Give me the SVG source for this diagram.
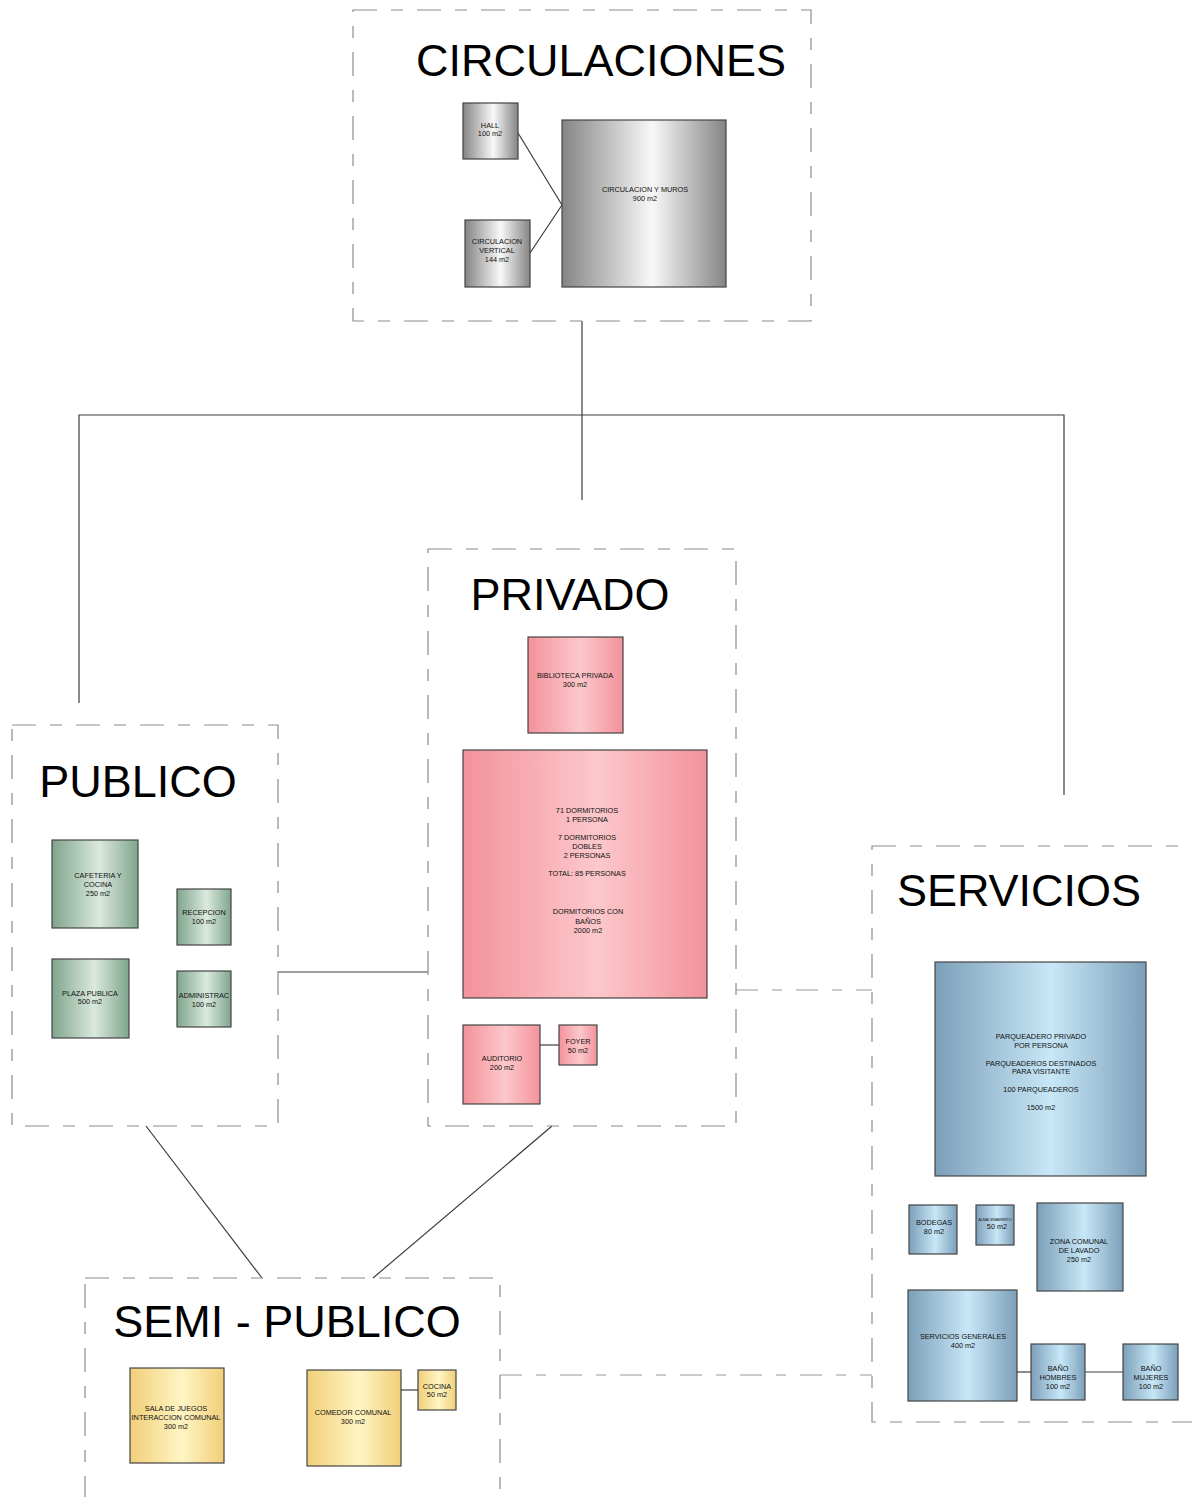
<svg xmlns="http://www.w3.org/2000/svg" width="1192" height="1497" viewBox="0 0 1192 1497">
<defs>
<linearGradient id="gGray" x1="0" y1="0" x2="1" y2="0">
<stop offset="0" stop-color="#858585"/><stop offset="0.55" stop-color="#f8f8f8"/><stop offset="1" stop-color="#858585"/>
</linearGradient>
<linearGradient id="gPink" x1="0" y1="0" x2="1" y2="0">
<stop offset="0" stop-color="#f3929a"/><stop offset="0.55" stop-color="#fcc8cb"/><stop offset="1" stop-color="#f3929a"/>
</linearGradient>
<linearGradient id="gGreen" x1="0" y1="0" x2="1" y2="0">
<stop offset="0" stop-color="#7fa58c"/><stop offset="0.55" stop-color="#dbe9df"/><stop offset="1" stop-color="#7fa58c"/>
</linearGradient>
<linearGradient id="gBlue" x1="0" y1="0" x2="1" y2="0">
<stop offset="0" stop-color="#7c9fb9"/><stop offset="0.55" stop-color="#c8e7f7"/><stop offset="1" stop-color="#7c9fb9"/>
</linearGradient>
<linearGradient id="gYellow" x1="0" y1="0" x2="1" y2="0">
<stop offset="0" stop-color="#f1cf78"/><stop offset="0.55" stop-color="#fff5c4"/><stop offset="1" stop-color="#f1cf78"/>
</linearGradient>
</defs>
<style>
.frame{fill:none;stroke:#8c8c8c;stroke-width:1.2;stroke-dasharray:24 14 12 14}
.dconn{fill:none;stroke:#9a9a9a;stroke-width:1.2;stroke-dasharray:22 14 10 14}
.conn{fill:none;stroke:#3c3c3c;stroke-width:1.2}
.box{stroke:#444;stroke-width:1.2}
.title{font-family:"Liberation Sans",Arial,sans-serif;font-size:45px;fill:#000;text-anchor:middle}
.lbl{font-family:"Liberation Sans",Arial,sans-serif;font-size:7.3px;fill:#111;text-anchor:middle}
.tiny{font-family:"Liberation Sans",Arial,sans-serif;font-size:3.5px;fill:#111;text-anchor:middle}
</style>
<rect width="1192" height="1497" fill="#fff"/>

<g id="connectors">
<line class="conn" x1="582" y1="321" x2="582" y2="500"/>
<polyline class="conn" points="79,703 79,415 1064,415 1064,795"/>
<line class="conn" x1="518" y1="133" x2="562" y2="205"/>
<line class="conn" x1="530" y1="253" x2="562" y2="205"/>
<line class="conn" x1="540" y1="1045" x2="559" y2="1045"/>
<line class="conn" x1="278" y1="972" x2="428" y2="972"/>
<line class="conn" x1="146" y1="1126" x2="262" y2="1278"/>
<line class="conn" x1="552" y1="1126" x2="373" y2="1278"/>
<line class="conn" x1="1017" y1="1372" x2="1031" y2="1372"/>
<line class="conn" x1="1085" y1="1372" x2="1123" y2="1372"/>
<line class="conn" x1="401" y1="1390" x2="418" y2="1390"/>
<line class="dconn" x1="736" y1="990" x2="872" y2="990"/>
<line class="dconn" x1="500" y1="1375" x2="872" y2="1375"/>
</g>

<g id="circulaciones">
<rect class="frame" x="353" y="10" width="458" height="311"/>
<text class="title" x="601" y="76">CIRCULACIONES</text>
</g>
<g id="hall">
<rect class="box" x="463" y="103" width="55" height="56" fill="url(#gGray)"/>
<text class="lbl" x="490" y="128">HALL</text><text class="lbl" x="490" y="136">100 m2</text>
</g>
<g id="circ-vertical">
<rect class="box" x="465" y="220" width="65" height="67" fill="url(#gGray)"/>
<text class="lbl" x="497" y="244">CIRCULACION</text><text class="lbl" x="497" y="253">VERTICAL</text><text class="lbl" x="497" y="262">144 m2</text>
</g>
<g id="circ-muros">
<rect class="box" x="562" y="120" width="164" height="167" fill="url(#gGray)"/>
<text class="lbl" x="645" y="192">CIRCULACION Y MUROS</text><text class="lbl" x="645" y="201">900 m2</text>
</g>

<g id="privado">
<rect class="frame" x="428" y="549" width="308" height="577"/>
<text class="title" x="570" y="610">PRIVADO</text>
</g>
<g id="biblioteca">
<rect class="box" x="528" y="637" width="95" height="96" fill="url(#gPink)"/>
<text class="lbl" x="575" y="678">BIBLIOTECA PRIVADA</text><text class="lbl" x="575" y="687">300 m2</text>
</g>
<g id="dormitorios">
<rect class="box" x="463" y="750" width="244" height="248" fill="url(#gPink)"/>
<text class="lbl" x="587" y="813">71 DORMITORIOS</text><text class="lbl" x="587" y="822">1 PERSONA</text>
<text class="lbl" x="587" y="840">7 DORMITORIOS</text><text class="lbl" x="587" y="849">DOBLES</text><text class="lbl" x="587" y="858">2 PERSONAS</text>
<text class="lbl" x="587" y="876">TOTAL: 85 PERSONAS</text>
<text class="lbl" x="588" y="914">DORMITORIOS CON</text><text class="lbl" x="588" y="924">BAÑOS</text><text class="lbl" x="588" y="933">2000 m2</text>
</g>
<g id="auditorio">
<rect class="box" x="463" y="1025" width="77" height="79" fill="url(#gPink)"/>
<text class="lbl" x="502" y="1061">AUDITORIO</text><text class="lbl" x="502" y="1070">200 m2</text>
</g>
<g id="foyer">
<rect class="box" x="559" y="1025" width="38" height="40" fill="url(#gPink)"/>
<text class="lbl" x="578" y="1044">FOYER</text><text class="lbl" x="578" y="1053">50 m2</text>
</g>

<g id="publico">
<rect class="frame" x="12" y="725" width="266" height="401"/>
<text class="title" x="138" y="797">PUBLICO</text>
</g>
<g id="cafeteria">
<rect class="box" x="52" y="840" width="86" height="88" fill="url(#gGreen)"/>
<text class="lbl" x="98" y="878">CAFETERIA Y</text><text class="lbl" x="98" y="887">COCINA</text><text class="lbl" x="98" y="896">250 m2</text>
</g>
<g id="recepcion">
<rect class="box" x="177" y="889" width="54" height="56" fill="url(#gGreen)"/>
<text class="lbl" x="204" y="915">RECEPCION</text><text class="lbl" x="204" y="924">100 m2</text>
</g>
<g id="plaza">
<rect class="box" x="52" y="959" width="77" height="79" fill="url(#gGreen)"/>
<text class="lbl" x="90" y="996">PLAZA PUBLICA</text><text class="lbl" x="90" y="1004">500 m2</text>
</g>
<g id="administrac">
<rect class="box" x="177" y="971" width="54" height="56" fill="url(#gGreen)"/>
<text class="lbl" x="204" y="998">ADMINISTRAC</text><text class="lbl" x="204" y="1007">100 m2</text>
</g>

<g id="servicios">
<rect class="frame" x="872" y="846" width="322" height="576"/>
<text class="title" x="1019" y="906">SERVICIOS</text>
</g>
<g id="parqueadero">
<rect class="box" x="935" y="962" width="211" height="214" fill="url(#gBlue)"/>
<text class="lbl" x="1041" y="1039">PARQUEADERO PRIVADO</text><text class="lbl" x="1041" y="1048">POR PERSONA</text>
<text class="lbl" x="1041" y="1066">PARQUEADEROS DESTINADOS</text><text class="lbl" x="1041" y="1074">PARA VISITANTE</text>
<text class="lbl" x="1041" y="1092">100 PARQUEADEROS</text>
<text class="lbl" x="1041" y="1110">1500 m2</text>
</g>
<g id="bodegas">
<rect class="box" x="909" y="1205" width="48" height="49" fill="url(#gBlue)"/>
<text class="lbl" x="934" y="1225">BODEGAS</text><text class="lbl" x="934" y="1234">80 m2</text>
</g>
<g id="almacenamiento">
<rect class="box" x="976" y="1205" width="38" height="40" fill="url(#gBlue)"/>
<text class="tiny" x="995" y="1221">ALMACENAMIENTO</text><text class="lbl" x="997" y="1229">50 m2</text>
</g>
<g id="lavado">
<rect class="box" x="1037" y="1203" width="86" height="88" fill="url(#gBlue)"/>
<text class="lbl" x="1079" y="1244">ZONA COMUNAL</text><text class="lbl" x="1079" y="1253">DE LAVADO</text><text class="lbl" x="1079" y="1262">250 m2</text>
</g>
<g id="serv-generales">
<rect class="box" x="908" y="1290" width="109" height="111" fill="url(#gBlue)"/>
<text class="lbl" x="963" y="1339">SERVICIOS GENERALES</text><text class="lbl" x="963" y="1348">400 m2</text>
</g>
<g id="bano-hombres">
<rect class="box" x="1031" y="1344" width="54" height="56" fill="url(#gBlue)"/>
<text class="lbl" x="1058" y="1371">BAÑO</text><text class="lbl" x="1058" y="1380">HOMBRES</text><text class="lbl" x="1058" y="1389">100 m2</text>
</g>
<g id="bano-mujeres">
<rect class="box" x="1123" y="1344" width="55" height="56" fill="url(#gBlue)"/>
<text class="lbl" x="1151" y="1371">BAÑO</text><text class="lbl" x="1151" y="1380">MUJERES</text><text class="lbl" x="1151" y="1389">100 m2</text>
</g>

<g id="semi-publico">
<rect class="frame" x="85" y="1278" width="415" height="240"/>
<text class="title" x="287" y="1337">SEMI - PUBLICO</text>
</g>
<g id="sala-juegos">
<rect class="box" x="130" y="1368" width="94" height="95" fill="url(#gYellow)"/>
<text class="lbl" x="176" y="1411">SALA DE JUEGOS</text><text class="lbl" x="176" y="1420">INTERACCION COMUNAL</text><text class="lbl" x="176" y="1429">300 m2</text>
</g>
<g id="comedor">
<rect class="box" x="307" y="1370" width="94" height="96" fill="url(#gYellow)"/>
<text class="lbl" x="353" y="1415">COMEDOR COMUNAL</text><text class="lbl" x="353" y="1424">300 m2</text>
</g>
<g id="cocina">
<rect class="box" x="418" y="1370" width="38" height="40" fill="url(#gYellow)"/>
<text class="lbl" x="437" y="1389">COCINA</text><text class="lbl" x="437" y="1397">50 m2</text>
</g>
</svg>
